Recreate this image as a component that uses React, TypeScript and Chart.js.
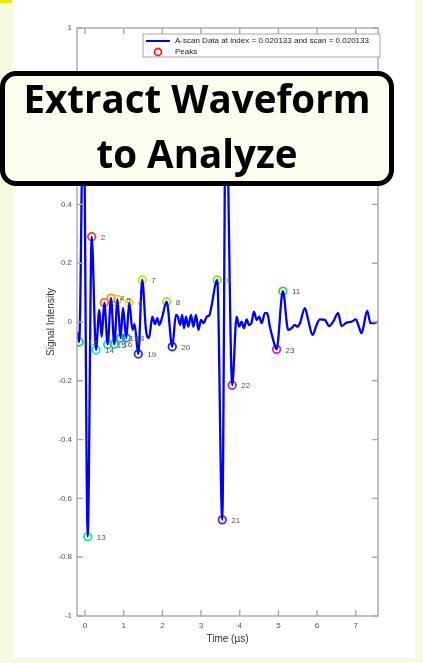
import React, { useEffect, useRef } from "react";
import { Chart, registerables } from "chart.js";

Chart.register(...registerables);

// ---- data ----
const timeUs = [
  -0.207, -0.15, -0.04, 0.07, 0.173, 0.284, 0.37, 0.43, 0.499, 0.587,
  0.672, 0.757, 0.84, 0.917, 0.982, 1.067, 1.145, 1.227, 1.28, 1.377,
  1.48, 1.576, 1.655, 1.74, 1.81, 1.87, 1.92, 1.99, 2.111, 2.256,
  2.351, 2.4, 2.46, 2.51, 2.56, 2.61, 2.67, 2.74, 2.8, 2.87,
  2.93, 3.0, 3.06, 3.15, 3.22, 3.26, 3.419, 3.548, 3.643, 3.806,
  3.92, 3.987, 4.049, 4.109, 4.178, 4.238, 4.307, 4.367, 4.437, 4.504,
  4.566, 4.651, 4.711, 4.78, 4.866, 4.953, 5.116, 5.253, 5.341, 5.426,
  5.486, 5.556, 5.685, 5.77, 5.884, 5.987, 6.072, 6.202, 6.313, 6.416,
  6.545, 6.633, 6.762, 6.891, 7.003, 7.08, 7.15, 7.295, 7.382, 7.468,
  7.579,
];

const signal = [
  -0.033, -0.068, 0.78, -0.73, 0.29, -0.095, 0.041, -0.05, 0.066, -0.076,
  0.081, -0.075, 0.077, -0.055, 0.048, -0.054, 0.066, -0.027, -0.007, -0.109,
  0.143, -0.027, -0.054, 0.018, -0.007, 0.013, -0.01, 0.014, 0.069, -0.084,
  0.024, 0.018, -0.01, 0.024, -0.021, 0.018, -0.016, 0.024, -0.016, 0.024,
  -0.027, 0.007, -0.004, 0.018, 0.024, 0.047, 0.143, -0.673, 0.79, -0.215,
  0.018, -0.016, 0.001, -0.021, 0.009, -0.01, -0.002, 0.035, 0.007, 0.018,
  -0.004, 0.03, 0.03, -0.016, -0.061, -0.093, 0.105, -0.027, -0.021, -0.01,
  -0.016, -0.004, 0.047, 0.007, -0.044, -0.01, 0.009, 0.007, -0.014, 0.001,
  0.03, -0.014, -0.002, 0.001, 0.009, -0.016, -0.038, 0.038, -0.004, -0.004,
  0.001,
];

// peak number -> index into the waveform arrays
const peakLabels = [
  "1", "2", "3", "4", "5", "6", "7", "8", "9", "10", "11", "12",
  "13", "14", "15", "16", "17", "18", "19", "20", "21", "22", "23",
];
const peakIndices = [2, 4, 8, 10, 12, 16, 20, 28, 46, 48, 66, 1, 3, 5, 9, 11, 13, 15, 19, 29, 47, 49, 65];
const peakColors = [
  "#ff2000", "#ff3a10", "#ff6a10", "#ff9410", "#ffbe10", "#e8e010", "#b4f010", "#9ae818",
  "#78e818", "#58f010", "#38e020", "#22d048", "#10f090", "#10e8e0", "#10d8f4", "#10c0ff",
  "#10a6ff", "#1088ff", "#1838ff", "#2424f0", "#6020ff", "#9028f8", "#d020e0",
];

const xTickValues = [0, 1, 2, 3, 4, 5, 6, 7];
const yTickValues = [-1, -0.8, -0.6, -0.4, -0.2, 0, 0.2, 0.4, 0.6, 0.8, 1];

const seriesName = "A-scan Data at index = 0.020133 and scan = 0.020133";
const peaksName = "Peaks";
const xTitle = "Time (\u00b5s)";
const yTitle = "Signal Intensity";
const calloutLines = ["Extract Waveform", "to Analyze"];

const FONT = '"Liberation Sans", Arial, Helvetica, sans-serif';
const AXIS_GREY = "#a8a8a8";

const matlabPlugin = {
  id: "matlabDecor",
  afterDatasetsDraw(chart: any) {
    const ctx = chart.ctx;
    const meta = chart.getDatasetMeta(1);
    ctx.save();
    ctx.font = `8px ${FONT}`;
    ctx.fillStyle = "#555";
    ctx.textAlign = "left";
    ctx.textBaseline = "middle";
    meta.data.forEach((pt: any, i: number) => {
      ctx.fillText(peakLabels[i], pt.x + 9, pt.y + 1);
    });
    ctx.restore();
  },
  afterDraw(chart: any) {
    const ctx = chart.ctx;
    const { left, right, top, bottom } = chart.chartArea;
    const xs = chart.scales.x;
    const ys = chart.scales.y;
    ctx.save();
    ctx.strokeStyle = AXIS_GREY;
    ctx.lineWidth = 1.4;
    ctx.strokeRect(left, top, right - left, bottom - top);
    const tl = 6;
    ctx.beginPath();
    xs.ticks.forEach((t: any) => {
      const px = xs.getPixelForValue(t.value);
      ctx.moveTo(px, bottom);
      ctx.lineTo(px, bottom - tl);
      ctx.moveTo(px, top);
      ctx.lineTo(px, top + tl);
    });
    ys.ticks.forEach((t: any) => {
      const py = ys.getPixelForValue(t.value);
      ctx.moveTo(left, py);
      ctx.lineTo(left + tl, py);
      ctx.moveTo(right, py);
      ctx.lineTo(right - tl, py);
    });
    ctx.stroke();

    // legend box
    const lw = 237;
    const lh = 23;
    const lx = right - 235;
    const ly = top + 6;
    ctx.fillStyle = "#fff";
    ctx.fillRect(lx, ly, lw, lh);
    ctx.lineWidth = 1;
    ctx.strokeRect(lx, ly, lw, lh);
    ctx.strokeStyle = "#0000ff";
    ctx.lineWidth = 2;
    ctx.beginPath();
    ctx.moveTo(lx + 3, ly + 7);
    ctx.lineTo(lx + 27, ly + 7);
    ctx.stroke();
    ctx.strokeStyle = "#ff1a1a";
    ctx.lineWidth = 1.8;
    ctx.beginPath();
    ctx.arc(lx + 15, ly + 18, 3.5, 0, Math.PI * 2);
    ctx.stroke();
    ctx.fillStyle = "#1a1a1a";
    ctx.font = `8px ${FONT}`;
    ctx.textAlign = "left";
    ctx.textBaseline = "middle";
    ctx.fillText(seriesName, lx + 32, ly + 7);
    ctx.fillText(peaksName, lx + 32, ly + 18);
    ctx.restore();
  },
};

export default function App() {
  const canvasRef = useRef<HTMLCanvasElement | null>(null);

  useEffect(() => {
    if (!canvasRef.current) return;
    const waveform = timeUs.map((t, i) => ({ x: t, y: signal[i] }));
    const peaks = peakIndices.map((i) => ({ x: timeUs[i], y: signal[i] }));
    const chart = new Chart(canvasRef.current, {
      type: "line",
      data: {
        datasets: [
          {
            label: seriesName,
            data: waveform,
            borderColor: "#0000ff",
            borderWidth: 2.3,
            pointRadius: 0,
            cubicInterpolationMode: "monotone",
            fill: false,
          },
          {
            label: peaksName,
            data: peaks,
            showLine: false,
            pointRadius: 3.8,
            pointHoverRadius: 3.8,
            pointBorderWidth: 1.8,
            pointBorderColor: peakColors,
            pointBackgroundColor: "rgba(0,0,0,0)",
          },
        ],
      },
      options: {
        animation: false,
        responsive: false,
        events: [],
        layout: { padding: { left: 0, top: 28, right: 45, bottom: 0 } },
        plugins: {
          legend: { display: false },
          tooltip: { enabled: false },
        },
        scales: {
          x: {
            type: "linear",
            min: -0.207,
            max: 7.575,
            afterBuildTicks: (s: any) => {
              s.ticks = xTickValues.map((v) => ({ value: v }));
            },
            afterFit: (s: any) => {
              s.height = 47;
            },
            grid: { display: false, drawTicks: false },
            border: { display: false },
            ticks: {
              padding: 5,
              color: "#555",
              font: { size: 8, family: FONT },
              maxRotation: 0,
              autoSkip: false,
              callback: (v: any) => String(v),
            },
            title: {
              display: true,
              text: xTitle,
              color: "#333",
              font: { size: 10, family: FONT },
              padding: { top: 0, bottom: 18 },
            },
          },
          y: {
            type: "linear",
            min: -1,
            max: 1,
            afterBuildTicks: (s: any) => {
              s.ticks = yTickValues.map((v) => ({ value: v }));
            },
            afterFit: (s: any) => {
              s.width = 77;
            },
            grid: { display: false, drawTicks: false },
            border: { display: false },
            ticks: {
              padding: 5,
              color: "#555",
              font: { size: 8, family: FONT },
              autoSkip: false,
              callback: (v: any) => String(Number(Number(v).toFixed(1))),
            },
            title: {
              display: true,
              text: yTitle,
              color: "#333",
              font: { size: 10, family: FONT },
              padding: { top: 45, bottom: 0 },
            },
          },
        },
      },
      plugins: [matlabPlugin],
    } as any);
    return () => chart.destroy();
  }, []);

  return (
    <div
      style={{
        position: "fixed",
        left: 0,
        top: 0,
        width: 423,
        height: 663,
        overflow: "hidden",
        background: "#f8f9e1",
      }}
    >
      <div style={{ position: "absolute", left: 13, top: 0, width: 402, height: 658, background: "#ffffff" }} />
      <div style={{ position: "absolute", left: 0, top: 0, width: 12, height: 3, background: "#e8e800" }} />
      <canvas ref={canvasRef} width={423} height={663} style={{ position: "absolute", left: 0, top: 0 }} />
      <div
        style={{
          position: "absolute",
          left: 0,
          top: 71,
          width: 394,
          height: 115,
          boxSizing: "border-box",
          border: "5px solid #000",
          borderRadius: 16,
          background: "#fbfbee",
        }}
      />
      <div
        style={{
          position: "absolute",
          left: 0,
          top: 70.5,
          width: 394,
          textAlign: "center",
          fontFamily: '"Open Sans", sans-serif',
          fontWeight: 700,
          fontSize: 38.5,
          lineHeight: "55px",
          color: "#000",
          whiteSpace: "nowrap",
        }}
      >
        {calloutLines.map((l) => (
          <div key={l}>{l}</div>
        ))}
      </div>
    </div>
  );
}
